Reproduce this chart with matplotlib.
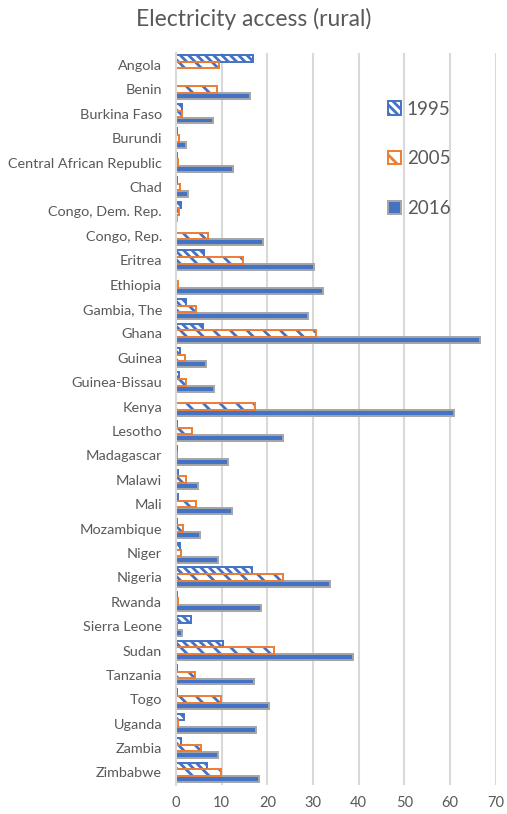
import matplotlib
matplotlib.use("Agg")
import matplotlib.pyplot as plt
import numpy as np
from matplotlib.patches import Patch

plt.rcParams['font.family'] = ['Lato', 'DejaVu Sans']
plt.rcParams['hatch.linewidth'] = 2.0

countries = ["Angola", "Benin", "Burkina Faso", "Burundi", "Central African Republic",
             "Chad", "Congo, Dem. Rep.", "Congo, Rep.", "Eritrea", "Ethiopia",
             "Gambia, The", "Ghana", "Guinea", "Guinea-Bissau", "Kenya", "Lesotho",
             "Madagascar", "Malawi", "Mali", "Mozambique", "Niger", "Nigeria",
             "Rwanda", "Sierra Leone", "Sudan", "Tanzania", "Togo", "Uganda",
             "Zambia", "Zimbabwe"]
v1995 = [16.8, 0.0, 1.4, 0.3, 0.2, 0.3, 1.2, 0.0, 6.1, 0.0, 2.3, 5.9, 1.0, 0.6, 0.0,
         0.3, 0.2, 0.4, 0.5, 0.3, 1.0, 16.6, 0.2, 3.3, 10.4, 0.3, 0.2, 1.8, 1.1, 6.9]
v2005 = [9.4, 9.0, 1.4, 0.6, 0.5, 1.0, 0.6, 7.1, 14.7, 0.5, 4.3, 30.6, 2.0, 2.2, 17.2,
         3.6, 0.2, 2.2, 4.4, 1.6, 1.1, 23.5, 0.5, 0.3, 21.5, 4.2, 9.8, 0.5, 5.5, 9.8]
v2016 = [0.0, 16.3, 8.2, 2.3, 12.5, 2.7, 0.3, 19.1, 30.2, 32.2, 28.8, 66.5, 6.6, 8.4, 60.9,
         23.5, 11.4, 4.8, 12.3, 5.2, 9.3, 33.8, 18.7, 1.4, 38.7, 17.1, 20.3, 17.6, 9.2, 18.1]
series = ["1995", "2005", "2016"]
xticks = [0, 10, 20, 30, 40, 50, 60, 70]

BLUE = "#4472C4"
ORANGE = "#ED7D31"
GRAY = "#A5A5A5"
TXT = "#595959"

fig = plt.figure(figsize=(5.07, 8.14), dpi=100)
ax = fig.add_axes([0.347, 0.036, 0.631, 0.899])

y = np.arange(len(countries))
h = 0.27

# 1995: blue dense hatch
ax.barh(y - h, v1995, height=h, facecolor="white", edgecolor=BLUE, hatch="\\\\\\\\", linewidth=0, zorder=3)
ax.barh(y - h, v1995, height=h, fill=False, edgecolor=BLUE, linewidth=1.4, zorder=4)
# 2005: blue sparse hatch, orange outline
ax.barh(y, v2005, height=h, facecolor="white", edgecolor=BLUE, hatch="\\\\", linewidth=0, zorder=3)
ax.barh(y, v2005, height=h, fill=False, edgecolor=ORANGE, linewidth=1.4, zorder=4)
# 2016: solid blue, gray edge
ax.barh(y + h, v2016, height=h * 0.9, color=BLUE, edgecolor=GRAY, linewidth=1.4, zorder=3)

ax.set_xlim(0, 70)
ax.set_ylim(len(countries) - 0.5, -0.5)
ax.set_xticks(xticks)
ax.set_yticks(y)
ax.set_yticklabels(countries)
ax.tick_params(axis='both', length=0, colors=TXT)
ax.tick_params(axis='x', labelsize=10.5, pad=8)
ax.tick_params(axis='y', labelsize=10.4, pad=10)
ax.grid(axis='x', color="#D9D9D9", linewidth=1.5, zorder=0)
for s in ["top", "right", "bottom"]:
    ax.spines[s].set_visible(False)
ax.spines["left"].set_color("#D9D9D9")
ax.spines["left"].set_linewidth(1.5)
ax.spines["left"].set_zorder(5)

handles = [Patch(facecolor="white", edgecolor=BLUE, hatch="\\\\\\\\", linewidth=1.4),
           Patch(facecolor="white", edgecolor=ORANGE, hatch="\\\\", linewidth=1.4),
           Patch(facecolor=BLUE, edgecolor=GRAY, linewidth=1.4)]
leg = ax.legend(handles, series, loc="upper left", bbox_to_anchor=(0.61, 0.958),
                frameon=False, fontsize=13.5, labelcolor=TXT, labelspacing=1.75,
                handlelength=0.7, handleheight=0.7, handletextpad=0.3)

fig.text(0.5, 0.977, "Electricity access (rural)", ha="center", va="center",
         fontsize=16.5, color=TXT)

fig.savefig("out.png", dpi=100, facecolor="white")
